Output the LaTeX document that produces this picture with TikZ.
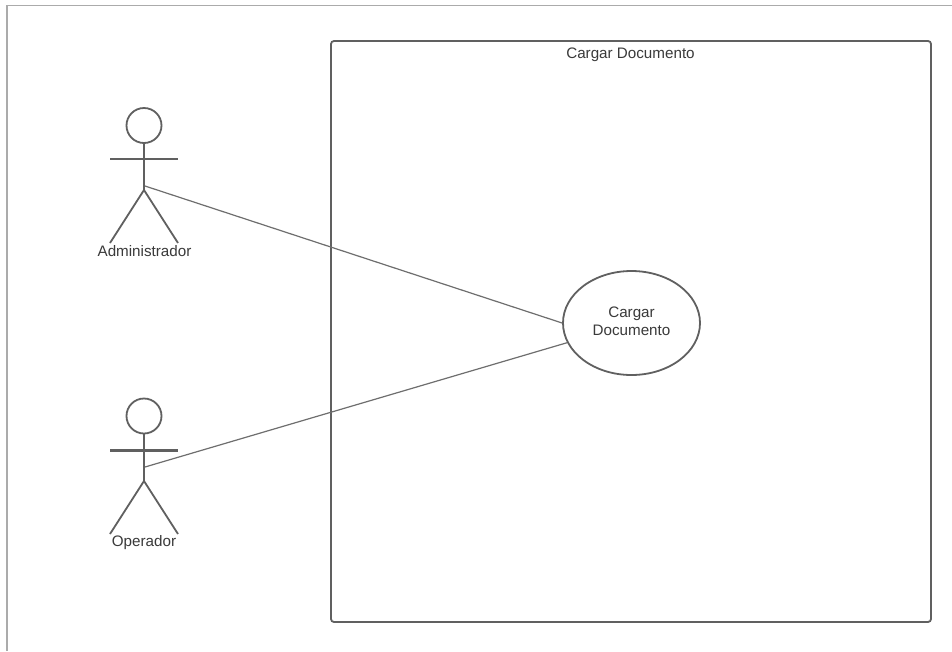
\documentclass[tikz,border=0pt]{standalone}
\usepackage{fontspec}
\setmainfont{Liberation Sans}
\usetikzlibrary{shapes.geometric}
\definecolor{umlline}{HTML}{606060}
\definecolor{assocline}{HTML}{6E6E6E}
\definecolor{framegrey}{HTML}{ABABAB}
\definecolor{labelgrey}{HTML}{3A3A3A}
\tikzset{
  x=1pt,y=-1pt,
  umlstroke/.style={draw=umlline,line width=1.8pt},
  assoc/.style={draw=assocline,line width=1.2pt},
  lbl/.style={text=labelgrey,font=\fontsize{15.2}{18}\selectfont,inner sep=0pt,align=center},
  head/.style={circle,umlstroke,minimum size=35pt,inner sep=0pt,fill=white},
  usecase/.style={ellipse,umlstroke,fill=white,minimum width=137pt,minimum height=104pt,inner sep=0pt},
  sysbox/.style={rectangle,umlstroke,rounded corners=3pt,minimum width=600pt,minimum height=581pt,inner sep=0pt},
}
\begin{document}
\begin{tikzpicture}
\useasboundingbox (0,0) rectangle (952,651);
\fill[white] (0,0) rectangle (952,651);
% outer frame
\draw[framegrey,line width=1.2pt] (7,651) -- (7,5.5) -- (952,5.5);
% system boundary
\node[sysbox] (sys) at (631,331.5) {};
\node[lbl] (systitle) at (630.5,55) {Cargar Documento};
% use case
\node[usecase] (uc) at (631.5,323) {};
\node[lbl] (uclabel) at (631.5,321.5) {Cargar\\Documento};
% actor 1
\node[head] (h1) at (144,125.5) {};
\coordinate (w1) at (144,190);
\coordinate (c1) at (145,186);
\coordinate (al1) at (110,159);
\coordinate (ar1) at (178,159);
\coordinate (ll1) at (110,243);
\coordinate (lr1) at (178,243);
\draw[umlstroke] (h1.south) -- (w1);
\draw[umlstroke] (al1) -- (ar1);
\draw[umlstroke] (ll1) -- (w1) -- (lr1);
\node[lbl] (a1) at (144.5,251) {Administrador};
% actor 2
\node[head] (h2) at (144,416) {};
\coordinate (w2) at (144,481);
\coordinate (c2) at (145,467);
\coordinate (al2) at (110,450.5);
\coordinate (ar2) at (178,450.5);
\coordinate (ll2) at (110,534);
\coordinate (lr2) at (178,534);
\draw[umlstroke] (h2.south) -- (w2);
\draw[umlstroke,line width=2.8pt] (al2) -- (ar2);
\draw[umlstroke] (ll2) -- (w2) -- (lr2);
\node[lbl] (a2) at (144,543) {Operador};
% associations
\draw[assoc] (c1) -- (uc.west);
\draw[assoc] (c2) -- (uc.197);
\end{tikzpicture}
\end{document}
